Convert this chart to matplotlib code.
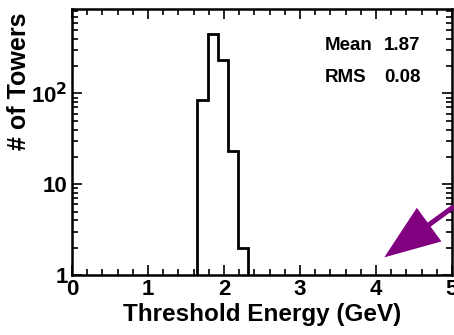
import matplotlib
matplotlib.use("Agg")
import matplotlib.pyplot as plt
from matplotlib.ticker import LogLocator, FixedLocator, MultipleLocator, NullFormatter

plt.rcParams['font.family'] = ['Liberation Sans', 'DejaVu Sans']
plt.rcParams['font.weight'] = 'bold'

bin_edges = [1.645, 1.79, 1.92, 2.05, 2.18, 2.32]
counts = [84, 455, 234, 23, 2]
mean_text = "1.87"
rms_text = "0.08"
x_ticks = [0, 1, 2, 3, 4, 5]
x_ticklabels = ["0", "1", "2", "3", "4", "5"]
y_ticks = [1, 10, 100]
y_ticklabels = ["1", "10", "10$^{\\mathbf{2}}$"]

fig = plt.figure(figsize=(4.54, 3.35), dpi=100)
ax = fig.add_axes([72/454, 60/335, 380/454, 266/335])

ax.stairs(counts, bin_edges, baseline=1, color='black', linewidth=2.0, fill=False)
ax.set_yscale('log')
ax.set_xlim(0, 5)
ax.set_ylim(1, 850)

ax.xaxis.set_major_locator(FixedLocator(x_ticks))
ax.set_xticklabels(x_ticklabels)
ax.xaxis.set_minor_locator(MultipleLocator(0.2))
ax.yaxis.set_major_locator(FixedLocator(y_ticks))
ax.set_yticklabels(y_ticklabels)
ax.yaxis.set_minor_locator(LogLocator(base=10, subs=range(2, 10)))
ax.yaxis.set_minor_formatter(NullFormatter())

ax.tick_params(which='both', direction='in', top=True, right=True, width=1.2, color='black')
ax.tick_params(which='major', length=7, labelsize=16, pad=3)
ax.tick_params(which='minor', length=4)
for lab in ax.get_xticklabels() + ax.get_yticklabels():
    lab.set_fontweight('bold')
for s in ax.spines.values():
    s.set_linewidth(1.8)

ax.set_xlabel("Threshold Energy (GeV)", fontsize=17.5, fontweight='bold', labelpad=2)
ax.set_ylabel("# of Towers", fontsize=18, fontweight='bold')
ax.yaxis.set_label_coords(-0.108, 0.73)

ax.text(0.666, 0.861, "Mean", transform=ax.transAxes, fontsize=13.5, fontweight='bold', va='center', ha='left')
ax.text(0.918, 0.861, mean_text, transform=ax.transAxes, fontsize=13.5, fontweight='bold', va='center', ha='right')
ax.text(0.666, 0.744, "RMS", transform=ax.transAxes, fontsize=13.5, fontweight='bold', va='center', ha='left')
ax.text(0.918, 0.744, rms_text, transform=ax.transAxes, fontsize=13.5, fontweight='bold', va='center', ha='right')

# purple arrow overlay (figure pixel coordinates)
fig.patches.append(matplotlib.patches.FancyArrowPatch(
    (456/454, 1 - 205/335), (382/454, 1 - 259/335), transform=fig.transFigure,
    arrowstyle='simple,head_length=2.0,head_width=1.5,tail_width=0.18',
    mutation_scale=20, color='#800080', lw=0))

fig.savefig("out.png", dpi=100)
